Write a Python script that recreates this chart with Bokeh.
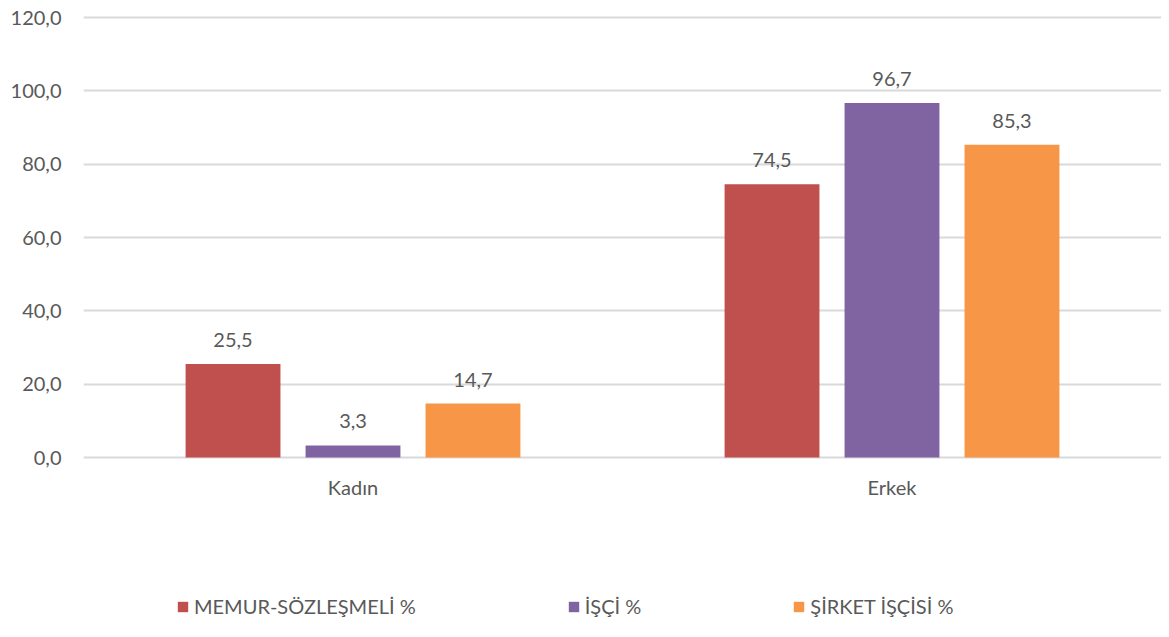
from bokeh.plotting import figure
from bokeh.models import ColumnDataSource, FactorRange, Range1d, FixedTicker, CustomJSTickFormatter, LabelSet, Legend, LegendItem
from bokeh.transform import dodge
from bokeh.core.properties import value
from bokeh.embed import file_html
from bokeh.resources import INLINE

categories = ["Kadın", "Erkek"]
series_names = ["MEMUR-SÖZLEŞMELİ %", "İŞÇİ %", "ŞİRKET İŞÇİSİ %"]
memur = [25.5, 74.5]
isci = [3.3, 96.7]
sirket = [14.7, 85.3]
y_ticks = [0, 20, 40, 60, 80, 100, 120]

colors = ["#C0504D", "#8064A2", "#F79646"]
FONT = "Lato"
TXT = "#595959"

def fmt(v):
    return f"{v:.1f}".replace(".", ",")

src = ColumnDataSource(dict(
    cat=categories,
    memur=memur, isci=isci, sirket=sirket,
    memur_l=[fmt(v) for v in memur],
    isci_l=[fmt(v) for v in isci],
    sirket_l=[fmt(v) for v in sirket],
))

scale = 440 / 120.0
p = figure(
    width=1161, height=621,
    x_range=FactorRange(*categories, range_padding=0),
    y_range=Range1d(-164 / scale, 120 + 17 / scale),
    output_backend="svg", toolbar_location=None,
    min_border_left=83, min_border_right=0, min_border_top=0, min_border_bottom=0,
)
p.outline_line_color = None
p.background_fill_color = "white"
p.border_fill_color = "white"

offsets = [-0.2226, 0.0, 0.2226]
fields = ["memur", "isci", "sirket"]
renderers = []
for f, off, c in zip(fields, offsets, colors):
    r = p.vbar(x=dodge("cat", off, range=p.x_range), top=f, width=0.176, source=src,
               fill_color=c, line_color=None)
    renderers.append(r)
    lab = LabelSet(x=dodge("cat", off, range=p.x_range), y=f, text=f + "_l", source=src,
                   text_align="center", text_baseline="alphabetic", y_offset=17,
                   text_font=value(FONT), text_font_size=value("20px"), text_color=TXT)
    p.add_layout(lab)

# y axis
p.yaxis.ticker = FixedTicker(ticks=y_ticks)
p.yaxis.formatter = CustomJSTickFormatter(code="return tick.toFixed(1).replace('.', ',');")
p.yaxis.axis_line_color = None
p.yaxis.major_tick_line_color = None
p.yaxis.minor_tick_line_color = None
p.yaxis.major_label_standoff = 16
p.yaxis.major_label_text_font = FONT
p.yaxis.major_label_text_font_size = "20px"
p.yaxis.major_label_text_color = TXT

p.ygrid.ticker = FixedTicker(ticks=y_ticks)
p.ygrid.grid_line_color = "#D9D9D9"
p.ygrid.grid_line_width = 2
p.xgrid.grid_line_color = None

# x axis
p.xaxis.fixed_location = 0
p.xaxis.axis_line_color = None
p.xaxis.major_tick_line_color = None
p.xaxis.minor_tick_line_color = None
p.xaxis.major_label_standoff = 11
p.xaxis.major_label_text_font = FONT
p.xaxis.major_label_text_font_size = "20px"
p.xaxis.major_label_text_color = TXT

legend = Legend(
    items=[LegendItem(label=n, renderers=[r]) for n, r in zip(series_names, renderers)],
    orientation="horizontal", location=(93, 3),
    glyph_width=13, glyph_height=13, label_height=16, label_standoff=5, spacing=151,
    padding=0, margin=0, border_line_color=None, background_fill_alpha=0,
    label_text_font=FONT, label_text_font_size="20px", label_text_color=TXT,
)
p.add_layout(legend)

open("out.html", "w").write(file_html(p, INLINE))
